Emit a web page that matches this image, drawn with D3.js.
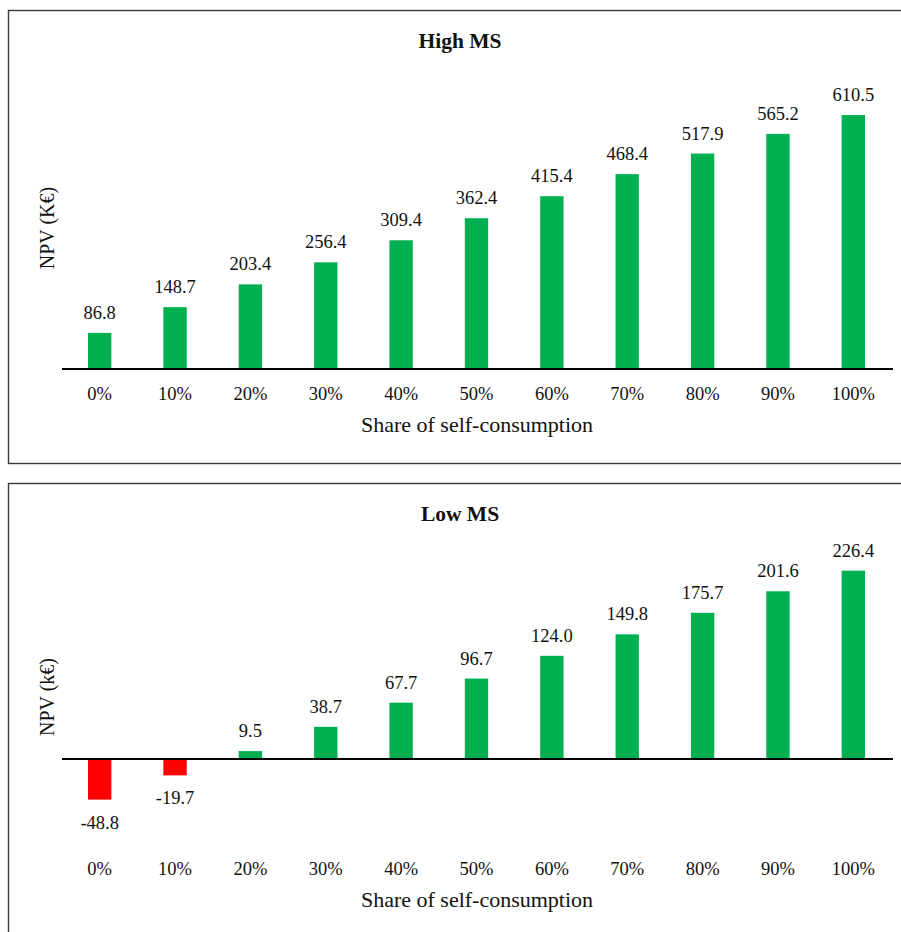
<!DOCTYPE html>
<html>
<head>
<meta charset="utf-8">
<script src="https://cdn.jsdelivr.net/npm/d3@7"></script>
<style>
  html, body { margin: 0; padding: 0; background: #fff; }
  svg { display: block; }
  text { font-family: "Liberation Serif", "DejaVu Serif", serif; fill: #111; }
</style>
</head>
<body>
<svg id="chart" width="901" height="932"></svg>
<script>
// Share of self-consumption categories
const categories = ["0%", "10%", "20%", "30%", "40%", "50%", "60%", "70%", "80%", "90%", "100%"];
// NPV values per scenario
const highMS = [86.8, 148.7, 203.4, 256.4, 309.4, 362.4, 415.4, 468.4, 517.9, 565.2, 610.5];
const lowMS = [-48.8, -19.7, 9.5, 38.7, 67.7, 96.7, 124.0, 149.8, 175.7, 201.6, 226.4];

const panels = [
  { title: "High MS", yLabel: "NPV (K€)", values: highMS, top: 10, height: 453,
    domain: [0, 700], range: [369, 77.8], decimals: 1 },
  { title: "Low MS", yLabel: "NPV (k€)", values: lowMS, top: 483, height: 470,
    domain: [-100, 250], range: [842.2, 551], decimals: 1 }
];

const svg = d3.select("#chart");
const GREEN = "#00b050", RED = "#ff0000";

const x = d3.scaleBand().domain(categories).range([62, 891]).paddingInner(0.69).paddingOuter(0.345);

panels.forEach(p => {
  const g = svg.append("g");
  // panel frame
  g.append("rect")
    .attr("x", 8.5).attr("y", p.top + 0.5)
    .attr("width", 920).attr("height", p.height)
    .attr("fill", "none").attr("stroke", "#3a3a3a").attr("stroke-width", 1.4);

  const y = d3.scaleLinear().domain(p.domain).range(p.range);
  const y0 = y(0);

  // bars
  g.selectAll("rect.bar").data(p.values).join("rect")
    .attr("class", "bar")
    .attr("x", (d, i) => x(categories[i]))
    .attr("width", x.bandwidth())
    .attr("y", d => Math.min(y(d), y0))
    .attr("height", d => Math.abs(y(d) - y0))
    .attr("fill", d => d < 0 ? RED : GREEN);

  // baseline
  g.append("line")
    .attr("x1", 62).attr("x2", 893)
    .attr("y1", y0).attr("y2", y0)
    .attr("stroke", "#000").attr("stroke-width", 1.8);

  // value labels
  g.selectAll("text.val").data(p.values).join("text")
    .attr("class", "val")
    .attr("x", (d, i) => x(categories[i]) + x.bandwidth() / 2)
    .attr("y", d => d < 0 ? y(d) + 29 : y(d) - 14)
    .attr("text-anchor", "middle")
    .attr("font-size", 18.5)
    .text(d => d.toFixed(p.decimals));

  // category labels
  const catY = p.domain[0] < 0 ? 875 : 400;
  g.selectAll("text.cat").data(categories).join("text")
    .attr("class", "cat")
    .attr("x", d => x(d) + x.bandwidth() / 2)
    .attr("y", catY)
    .attr("text-anchor", "middle")
    .attr("font-size", 18.5)
    .text(d => d);

  // x-axis title
  g.append("text")
    .attr("x", 477).attr("y", catY + 32)
    .attr("text-anchor", "middle")
    .attr("font-size", 22)
    .text("Share of self-consumption");

  // panel title
  g.append("text")
    .attr("x", 460).attr("y", p.top + 38)
    .attr("text-anchor", "middle")
    .attr("font-size", 21.5).attr("font-weight", "bold")
    .text(p.title);

  // y-axis title
  const yc = p.domain[0] < 0 ? 697 : 228;
  g.append("text")
    .attr("transform", `translate(54,${yc}) rotate(-90)`)
    .attr("text-anchor", "middle")
    .attr("font-size", 20)
    .text(p.yLabel);
});
</script>
</body>
</html>
